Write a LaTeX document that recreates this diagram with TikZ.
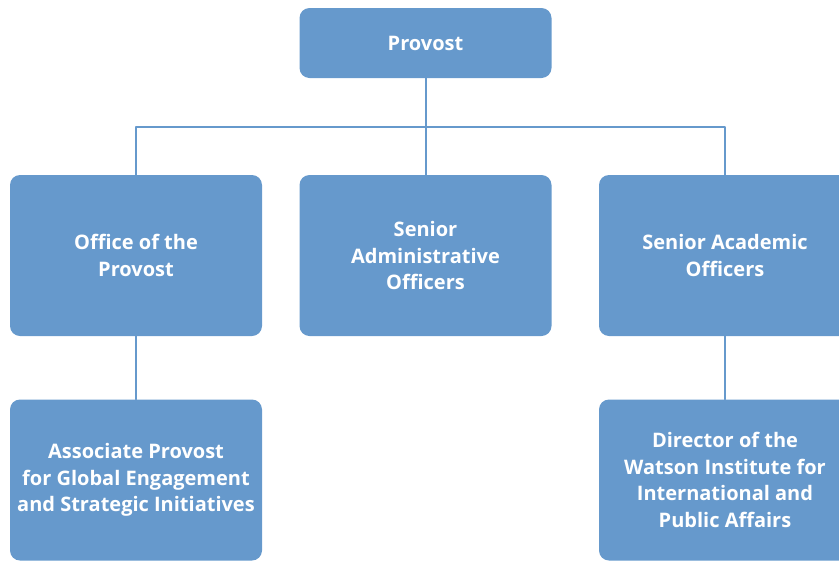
\documentclass[tikz,border=0pt]{standalone}
\usepackage{fontspec}
\setmainfont{Open Sans}
\usetikzlibrary{positioning}
\definecolor{boxblue}{HTML}{6699CC}

\begin{document}
\begin{tikzpicture}[line cap=round,line join=round,x=1pt,y=-1pt,
  orgbox/.style={fill=boxblue, rounded corners=10pt, minimum width=252pt, text=white,
    align=center, inner sep=4pt, font=\fontsize{20}{26.5}\selectfont\bfseries},
  orgline/.style={draw=boxblue, line width=2pt}]

		\useasboundingbox (0,0) rectangle (839,563);

		%ylin taso
		\node[orgbox, minimum height=70pt] (provost) at (425.5,43) {Provost};

		%toinen taso
		\node[orgbox, minimum height=161pt] (office) at (136,255.5) {Office of the\\Provost};
		\node[orgbox, minimum height=161pt] (admin) at (425.5,255.5) {Senior\\Administrative\\Officers};
		\node[orgbox, minimum height=161pt] (academic) at (725,255.5) {Senior Academic\\Officers};

		%kolmas taso
		\node[orgbox, minimum height=161pt] (assoc) at (136,480) {Associate Provost\\for Global Engagement\\and Strategic Initiatives};
		\node[orgbox, minimum height=161pt] (watson) at (725,480) {Director of the\\Watson Institute for\\International and\\Public Affairs};

		% viivat
		\coordinate (bar) at (425.5,127);
		\draw[orgline] (provost.south) -- (admin.north);
		\draw[orgline] (office.north) |- (bar) -| (academic.north);
		\draw[orgline] (office.south) -- (assoc.north);
		\draw[orgline] (academic.south) -- (watson.north);

\end{tikzpicture}
\end{document}
